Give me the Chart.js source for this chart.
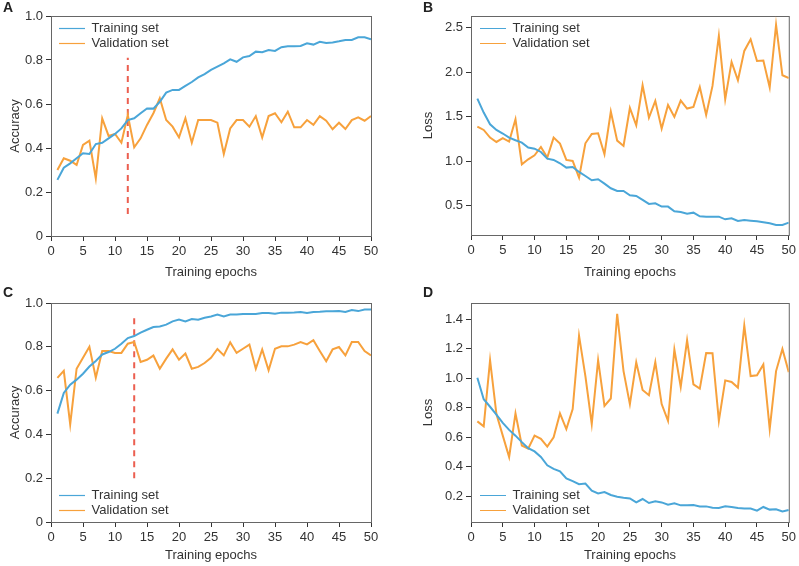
<!DOCTYPE html>
<html>
<head>
<meta charset="utf-8">
<script src="https://cdn.jsdelivr.net/npm/chart.js@4.4.1/dist/chart.umd.min.js"></script>
<style>
  body { margin: 0; background: #fff; }
  .panel { position: absolute; }
</style>
</head>
<body>
<div class="panel" style="left:0;top:0"><canvas id="chartA" width="400" height="283"></canvas></div>
<div class="panel" style="left:400px;top:0"><canvas id="chartB" width="399" height="283"></canvas></div>
<div class="panel" style="left:0;top:283px"><canvas id="chartC" width="400" height="283"></canvas></div>
<div class="panel" style="left:400px;top:283px"><canvas id="chartD" width="399" height="283"></canvas></div>
<script>
// epochs 1..50
const epochs = [1,2,3,4,5,6,7,8,9,10,11,12,13,14,15,16,17,18,19,20,21,22,23,24,25,
                26,27,28,29,30,31,32,33,34,35,36,37,38,39,40,41,42,43,44,45,46,47,48,49,50];

// A - accuracy
const trainAccA = [0.255,0.31,0.33,0.353,0.376,0.373,0.418,0.424,0.444,0.464,
                   0.489,0.527,0.535,0.558,0.58,0.579,0.61,0.652,0.664,0.664,
                   0.682,0.70,0.721,0.736,0.755,0.77,0.785,0.803,0.792,0.812,
                   0.818,0.838,0.835,0.845,0.841,0.858,0.862,0.862,0.864,0.876,
                   0.870,0.883,0.877,0.88,0.885,0.891,0.891,0.903,0.903,0.894];
const valAccA = [0.30,0.353,0.342,0.323,0.414,0.433,0.262,0.535,0.455,0.464,
                 0.424,0.55,0.403,0.444,0.505,0.558,0.626,0.527,0.497,0.448,
                 0.535,0.424,0.527,0.527,0.527,0.515,0.373,0.489,0.527,0.527,
                 0.497,0.545,0.448,0.545,0.558,0.517,0.565,0.494,0.494,0.527,
                 0.505,0.545,0.524,0.485,0.515,0.486,0.527,0.539,0.524,0.545];

// B - loss
const trainLossB = [1.702,1.545,1.414,1.35,1.31,1.264,1.234,1.208,1.152,1.14,
                    1.103,1.028,1.013,0.976,0.927,0.934,0.878,0.833,0.785,0.796,
                    0.747,0.695,0.665,0.665,0.616,0.609,0.564,0.519,0.526,0.489,
                    0.489,0.436,0.429,0.41,0.421,0.38,0.376,0.376,0.376,0.346,
                    0.358,0.328,0.339,0.331,0.324,0.313,0.301,0.283,0.283,0.309];
const valLossB = [1.388,1.35,1.264,1.215,1.257,1.219,1.47,0.964,1.02,1.066,
                  1.159,1.04,1.264,1.197,1.013,1.002,0.815,1.2,1.305,1.313,
                  1.077,1.556,1.23,1.17,1.597,1.403,1.852,1.489,1.676,1.365,
                  1.631,1.496,1.68,1.59,1.609,1.833,1.519,1.845,2.406,1.695,
                  2.114,1.908,2.238,2.369,2.125,2.129,1.826,2.53,1.964,1.934];

// C - accuracy
const trainAccC = [0.495,0.589,0.627,0.65,0.677,0.71,0.735,0.765,0.776,0.791,
                   0.814,0.84,0.849,0.865,0.878,0.89,0.893,0.901,0.916,0.924,
                   0.916,0.927,0.924,0.933,0.938,0.947,0.938,0.947,0.947,0.95,
                   0.95,0.95,0.954,0.954,0.951,0.956,0.956,0.957,0.959,0.954,
                   0.959,0.96,0.962,0.962,0.963,0.959,0.968,0.963,0.97,0.97];
const valAccC = [0.658,0.69,0.446,0.70,0.75,0.80,0.659,0.781,0.781,0.772,
                 0.772,0.814,0.822,0.731,0.741,0.76,0.70,0.746,0.788,0.741,
                 0.769,0.70,0.708,0.726,0.75,0.79,0.761,0.82,0.772,0.791,
                 0.81,0.70,0.788,0.693,0.791,0.802,0.802,0.81,0.822,0.811,
                 0.83,0.781,0.734,0.788,0.799,0.761,0.822,0.822,0.781,0.76];

// D - loss
const trainLossD = [1.003,0.857,0.806,0.752,0.696,0.649,0.61,0.566,0.525,0.503,
                    0.465,0.409,0.384,0.368,0.319,0.301,0.281,0.285,0.236,0.218,
                    0.227,0.207,0.196,0.189,0.184,0.157,0.18,0.153,0.164,0.157,
                    0.142,0.151,0.137,0.137,0.139,0.13,0.13,0.121,0.119,0.13,
                    0.126,0.119,0.115,0.115,0.101,0.126,0.108,0.11,0.095,0.106];
const valLossD = [0.707,0.673,1.122,0.756,0.61,0.465,0.761,0.543,0.521,0.61,
                  0.588,0.536,0.599,0.761,0.655,0.79,1.288,1.014,0.689,1.122,
                  0.812,0.862,1.436,1.048,0.824,1.108,0.92,0.884,1.108,0.824,
                  0.711,1.194,0.94,1.257,0.958,0.929,1.171,1.169,0.711,0.985,
                  0.974,0.936,1.357,1.014,1.019,1.093,0.655,1.048,1.198,1.041];

// early stopping markers (epoch, y from, y to)
const stopA = { epoch: 12, from: 0.1, to: 0.81 };
const stopC = { epoch: 13, from: 0.2, to: 0.95 };

const seriesNames = ["Training set", "Validation set"];
const xTicks = { min: 0, max: 50, step: 5 };

const BLUE = "#4aa6d8";
const ORANGE = "#f7a13c";
const RED = "#ec5f50";
const INK = "#333333";

Chart.defaults.font.family = "'Liberation Sans', Arial, sans-serif";
Chart.defaults.font.size = 13;
Chart.defaults.color = INK;

function toPoints(values) {
    return values.map((v, i) => ({ x: epochs[i], y: v }));
}

// panel letter, frame, legend nudge
const panelPlugin = {
    id: "panel",
    afterLayout(chart, args, opts) {
        const lg = chart.legend;
        if (lg) {
            lg.left += opts.legendDx;
            lg.right += opts.legendDx;
            lg.top += opts.legendDy;
            lg.bottom += opts.legendDy;
        }
    },
    beforeDatasetsDraw(chart) {
        const { ctx, chartArea } = chart;
        ctx.save();
        ctx.strokeStyle = "#666";
        ctx.lineWidth = 1;
        ctx.strokeRect(chartArea.left + 0.5, chartArea.top + 0.5,
                       chartArea.right - chartArea.left, chartArea.bottom - chartArea.top);
        ctx.restore();
    },
    afterDraw(chart, args, opts) {
        const ctx = chart.ctx;
        ctx.save();
        ctx.fillStyle = "#222";
        ctx.font = "bold 14px 'Liberation Sans', Arial, sans-serif";
        ctx.textBaseline = "middle";
        ctx.fillText(opts.letter, opts.letterX, opts.letterY);
        ctx.restore();
    }
};

function makeChart(id, cfg) {
    const datasets = [
        { label: seriesNames[0], data: toPoints(cfg.train), borderColor: BLUE,
          borderWidth: 2, pointRadius: 0, tension: 0 },
        { label: seriesNames[1], data: toPoints(cfg.val), borderColor: ORANGE,
          borderWidth: 2, pointRadius: 0, tension: 0 }
    ];
    if (cfg.stop) {
        datasets.push({
            label: "stop",
            data: [{ x: cfg.stop.epoch, y: cfg.stop.from }, { x: cfg.stop.epoch, y: cfg.stop.to }],
            borderColor: RED, borderWidth: 2, borderDash: [6, 5], pointRadius: 0
        });
    }

    new Chart(document.getElementById(id), {
        type: "line",
        data: { datasets: datasets },
        options: {
            responsive: false,
            animation: false,
            events: [],
            layout: { padding: cfg.padding },
            plugins: {
                tooltip: { enabled: false },
                legend: {
                    position: "chartArea",
                    align: cfg.legendAlign,
                    labels: {
                        usePointStyle: true,
                        pointStyle: "line",
                        pointStyleWidth: 26,
                        padding: 2,
                        color: INK,
                        filter: item => item.text !== "stop",
                        generateLabels(chart) {
                            const items = Chart.defaults.plugins.legend.labels.generateLabels(chart);
                            items.forEach(it => { it.lineWidth = 1.2; });
                            return items;
                        }
                    }
                },
                panel: cfg.panel
            },
            scales: {
                x: {
                    type: "linear",
                    min: xTicks.min,
                    max: xTicks.max,
                    afterFit(scale) { scale.height = cfg.xHeight; },
                    ticks: { stepSize: xTicks.step, padding: 3, color: INK, maxRotation: 0 },
                    grid: { drawOnChartArea: false, tickLength: 5, color: INK },
                    border: { color: INK, width: 1 },
                    title: { display: true, text: "Training epochs", color: INK,
                             padding: { top: 0, bottom: 3 } }
                },
                y: {
                    min: cfg.yMin,
                    max: cfg.yMax,
                    afterFit(scale) { scale.width = cfg.yWidth; },
                    ticks: {
                        stepSize: cfg.yStep,
                        includeBounds: false,
                        padding: 3,
                        color: INK,
                        callback: v => (v === 0 ? "0" : v.toFixed(1))
                    },
                    grid: { drawOnChartArea: false, tickLength: 5, color: INK },
                    border: { color: INK, width: 1 },
                    title: { display: true, text: cfg.yTitle, color: INK,
                             padding: { top: cfg.yTitlePad, bottom: 0 } }
                }
            }
        },
        plugins: [panelPlugin]
    });
}

makeChart("chartA", {
    train: trainAccA, val: valAccA, stop: stopA,
    yMin: 0, yMax: 1, yStep: 0.2, yTitle: "Accuracy", yTitlePad: 8,
    padding: { left: 0, top: 16, right: 29, bottom: 0 },
    yWidth: 51, xHeight: 47, legendAlign: "start",
    panel: { letter: "A", letterX: 3, letterY: 8, legendDx: 6, legendDy: 20 }
});

makeChart("chartB", {
    train: trainLossB, val: valLossB, stop: null,
    yMin: 0.17, yMax: 2.63, yStep: 0.5, yTitle: "Loss", yTitlePad: 21,
    padding: { left: 0, top: 16, right: 8, bottom: 0 },
    yWidth: 71, xHeight: 48, legendAlign: "start",
    panel: { letter: "B", letterX: 23, letterY: 8, legendDx: 7, legendDy: 20 }
});

makeChart("chartC", {
    train: trainAccC, val: valAccC, stop: stopC,
    yMin: 0, yMax: 1, yStep: 0.2, yTitle: "Accuracy", yTitlePad: 8,
    padding: { left: 0, top: 20, right: 29, bottom: 0 },
    yWidth: 51, xHeight: 44, legendAlign: "end",
    panel: { letter: "C", letterX: 3, letterY: 10, legendDx: 6, legendDy: 17 }
});

makeChart("chartD", {
    train: trainLossD, val: valLossD, stop: null,
    yMin: 0.024, yMax: 1.51, yStep: 0.2, yTitle: "Loss", yTitlePad: 21,
    padding: { left: 0, top: 20, right: 8, bottom: 0 },
    yWidth: 71, xHeight: 44, legendAlign: "end",
    panel: { letter: "D", letterX: 23, letterY: 10, legendDx: 7, legendDy: 17 }
});
</script>
</body>
</html>
